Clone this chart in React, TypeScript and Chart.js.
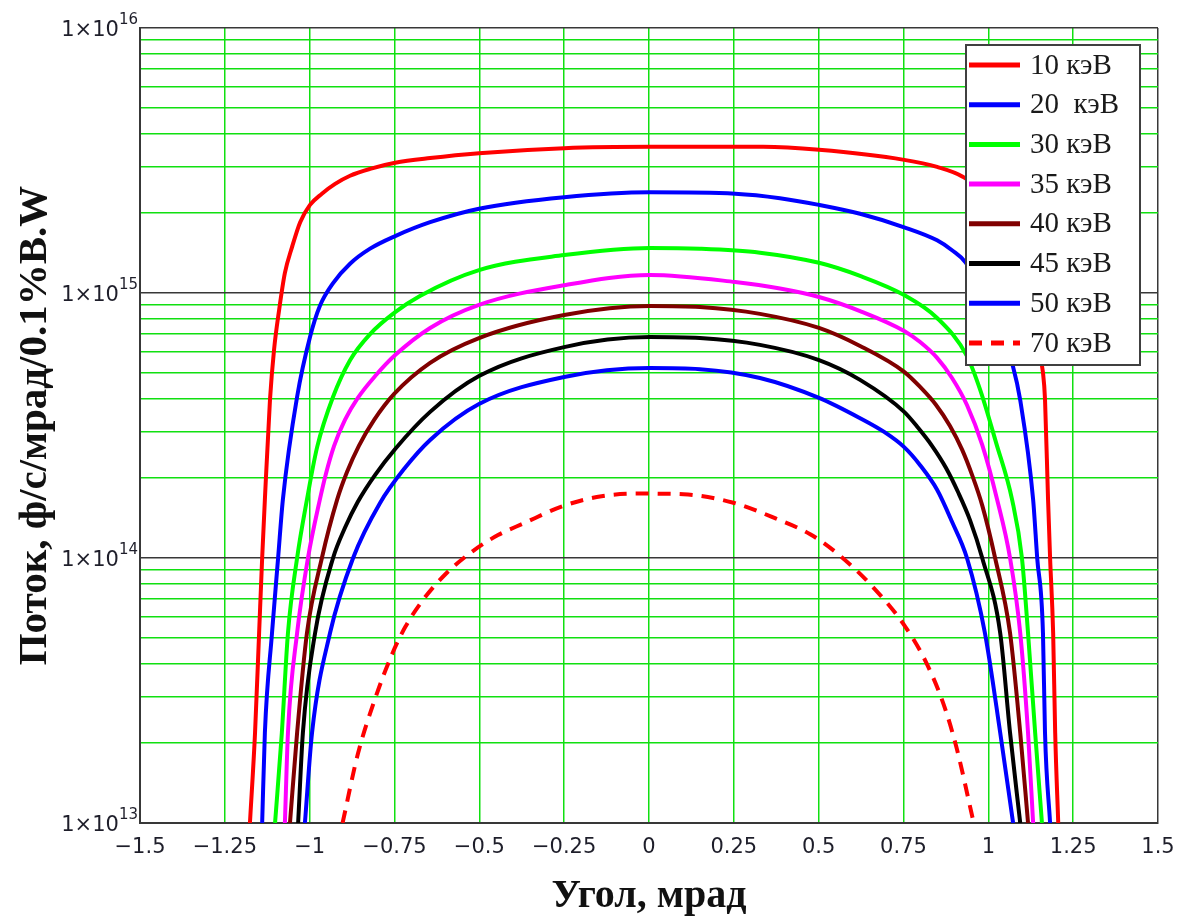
import React, { useEffect, useRef } from 'react';
import { Chart, registerables } from 'chart.js';

Chart.register(...registerables);

// ---- Data (angle in mrad, flux in ph/s/mrad/0.1%BW) ----
const angle10 = [-1.176, -1.161, -1.149, -1.14, -1.132, -1.117, -1.105, -1.09, -1.073, -1.052, -1.028, -0.999, -0.964, -0.925, -0.881, -0.822, -0.748, -0.645, -0.501, -0.25, 0.003, 0.336, 0.501, 0.752, 0.849, 0.926, 1.0, 1.05, 1.09, 1.12, 1.145, 1.161, 1.167, 1.176, 1.182, 1.191, 1.197, 1.206];
const flux10 = [1.0e13, 2.19e13, 5.21e13, 1.0e14, 1.66e14, 3.94e14, 6.1e14, 8.63e14, 1.19e15, 1.49e15, 1.85e15, 2.15e15, 2.37e15, 2.58e15, 2.77e15, 2.94e15, 3.1e15, 3.23e15, 3.37e15, 3.52e15, 3.56e15, 3.56e15, 3.47e15, 3.18e15, 2.99e15, 2.74e15, 2.29e15, 1.78e15, 1.26e15, 8.91e14, 6.31e14, 5.01e14, 3.98e14, 1.66e14, 1.0e14, 5.21e13, 2.19e13, 1.0e13];

const angle20 = [-1.14, -1.132, -1.111, -1.093, -1.079, -1.037, -0.999, -0.97, -0.931, -0.881, -0.822, -0.748, -0.645, -0.501, -0.25, 0.003, 0.254, 0.386, 0.501, 0.622, 0.752, 0.849, 0.893, 0.934, 0.99, 1.035, 1.073, 1.094, 1.132, 1.144, 1.161, 1.167, 1.182];
const flux20 = [1.0e13, 2.19e13, 5.21e13, 1.0e14, 1.66e14, 4.06e14, 6.82e14, 8.93e14, 1.09e15, 1.29e15, 1.47e15, 1.64e15, 1.85e15, 2.08e15, 2.3e15, 2.4e15, 2.37e15, 2.28e15, 2.15e15, 1.99e15, 1.77e15, 1.58e15, 1.45e15, 1.3e15, 9.42e14, 7.24e14, 5.26e14, 3.94e14, 1.66e14, 1.0e14, 5.21e13, 2.19e13, 1.0e13];

const angle30 = [-1.102, -1.082, -1.064, -1.037, -1.008, -0.978, -0.931, -0.881, -0.822, -0.748, -0.675, -0.501, -0.25, 0.003, 0.15, 0.327, 0.501, 0.622, 0.752, 0.849, 0.937, 0.976, 1.023, 1.07, 1.099, 1.117, 1.138, 1.158];
const flux30 = [1.0e13, 2.19e13, 5.21e13, 1.0e14, 1.66e14, 2.62e14, 4.06e14, 5.58e14, 7.0e14, 8.47e14, 9.75e14, 1.22e15, 1.39e15, 1.48e15, 1.47e15, 1.42e15, 1.3e15, 1.16e15, 9.82e14, 8.05e14, 5.78e14, 4.31e14, 2.72e14, 1.66e14, 1.0e14, 5.21e13, 2.19e13, 1.0e13];

const angle35 = [-1.073, -1.064, -1.037, -1.005, -0.97, -0.952, -0.928, -0.896, -0.858, -0.807, -0.748, -0.645, -0.501, -0.25, 0.003, 0.254, 0.386, 0.501, 0.622, 0.752, 0.799, 0.849, 0.893, 0.937, 0.982, 1.026, 1.064, 1.094, 1.117, 1.132];
const flux35 = [1.0e13, 2.19e13, 5.21e13, 1.0e14, 1.66e14, 2.08e14, 2.65e14, 3.32e14, 4.02e14, 4.86e14, 5.83e14, 7.38e14, 9.02e14, 1.07e15, 1.17e15, 1.1e15, 1.04e15, 9.66e14, 8.55e14, 7.19e14, 6.53e14, 5.69e14, 4.78e14, 3.78e14, 2.67e14, 1.66e14, 1.0e14, 5.21e13, 2.19e13, 1.0e13];

const angle40 = [-1.058, -1.037, -1.008, -0.964, -0.919, -0.89, -0.855, -0.81, -0.751, -0.645, -0.501, -0.25, 0.003, 0.15, 0.327, 0.501, 0.622, 0.752, 0.799, 0.846, 0.887, 0.923, 0.952, 0.982, 1.02, 1.064, 1.094, 1.117];
const flux40 = [1.0e13, 2.19e13, 5.21e13, 1.0e14, 1.66e14, 2.11e14, 2.65e14, 3.32e14, 4.16e14, 5.45e14, 6.76e14, 8.26e14, 8.93e14, 8.85e14, 8.34e14, 7.38e14, 6.31e14, 5.04e14, 4.42e14, 3.78e14, 3.15e14, 2.56e14, 2.06e14, 1.58e14, 1.0e14, 5.21e13, 2.19e13, 1.0e13];

const angle45 = [-1.034, -1.02, -0.984, -0.931, -0.896, -0.858, -0.807, -0.748, -0.645, -0.501, -0.25, 0.003, 0.15, 0.327, 0.501, 0.622, 0.752, 0.793, 0.834, 0.875, 0.911, 0.946, 0.982, 1.035, 1.064, 1.094];
const flux45 = [1.0e13, 2.19e13, 5.21e13, 1.0e14, 1.3e14, 1.63e14, 2.06e14, 2.58e14, 3.56e14, 4.86e14, 6.25e14, 6.82e14, 6.76e14, 6.37e14, 5.58e14, 4.7e14, 3.56e14, 3.1e14, 2.65e14, 2.19e14, 1.77e14, 1.39e14, 1.0e14, 5.21e13, 2.19e13, 1.0e13];

const angle50 = [-1.014, -0.993, -0.94, -0.872, -0.793, -0.719, -0.645, -0.501, -0.25, 0.003, 0.15, 0.327, 0.501, 0.622, 0.693, 0.752, 0.799, 0.849, 0.893, 0.937, 0.99, 1.035, 1.073];
const flux50 = [1.0e13, 2.19e13, 5.21e13, 1.0e14, 1.61e14, 2.19e14, 2.79e14, 3.81e14, 4.82e14, 5.21e14, 5.16e14, 4.78e14, 4.02e14, 3.37e14, 2.99e14, 2.62e14, 2.24e14, 1.81e14, 1.37e14, 1.0e14, 5.21e13, 2.19e13, 1.0e13];

const angle70 = [-0.903, -0.858, -0.807, -0.756, -0.718, -0.667, -0.603, -0.52, -0.445, -0.37, -0.254, -0.14, -0.025, 0.102, 0.246, 0.373, 0.475, 0.563, 0.664, 0.753, 0.817, 0.868, 0.906, 0.957];
const flux70 = [1.0e13, 1.82e13, 2.95e13, 4.37e13, 5.5e13, 6.92e13, 8.61e13, 1.06e14, 1.22e14, 1.35e14, 1.57e14, 1.71e14, 1.75e14, 1.74e14, 1.62e14, 1.41e14, 1.23e14, 1.02e14, 7.67e13, 5.56e13, 4.03e13, 2.81e13, 1.93e13, 1.0e13];

const seriesLabels = ['10 кэВ', '20  кэВ', '30 кэВ', '35 кэВ', '40 кэВ', '45 кэВ', '50 кэВ', '70 кэВ'];
const seriesColors = ['#ff0000', '#0000ff', '#00ff00', '#ff00ff', '#800000', '#000000', '#0000ff', '#ff0000'];
const seriesAngles = [angle10, angle20, angle30, angle35, angle40, angle45, angle50, angle70];
const seriesFlux = [flux10, flux20, flux30, flux35, flux40, flux45, flux50, flux70];

const xTickValues = [-1.5, -1.25, -1, -0.75, -0.5, -0.25, 0, 0.25, 0.5, 0.75, 1, 1.25, 1.5];
const xTickLabels = ['\u22121.5', '\u22121.25', '\u22121', '\u22120.75', '\u22120.5', '\u22120.25', '0', '0.25', '0.5', '0.75', '1', '1.25', '1.5'];
const yDecades = [13, 14, 15, 16];

const xTitle = 'Угол, мрад';
const yTitle = 'Поток, ф/с/мрад/0.1%В.W';

const GREEN = '#10e010';
const DARK = '#383838';

function buildYGrid(): number[] {
  const vals: number[] = [];
  for (let k = 0; k < yDecades.length - 1; k++) {
    for (let m = 1; m <= 9; m++) vals.push(m * Math.pow(10, yDecades[k]));
  }
  vals.push(Math.pow(10, yDecades[yDecades.length - 1]));
  return vals;
}

const legendPlugin = {
  id: 'boxLegend',
  afterDatasetsDraw(chart: any) {
    const { ctx, chartArea } = chart;
    const w = 174;
    const h = 320;
    const left = chartArea.right - 192;
    const top = chartArea.top + 17;
    ctx.save();
    ctx.fillStyle = '#ffffff';
    ctx.fillRect(left, top, w, h);
    ctx.strokeStyle = '#404040';
    ctx.lineWidth = 2;
    ctx.strokeRect(left, top, w, h);
    chart.data.datasets.forEach((ds: any, i: number) => {
      const y = top + 20 + i * 39.7;
      ctx.strokeStyle = ds.borderColor;
      ctx.lineWidth = 5;
      ctx.setLineDash(ds.borderDash || []);
      ctx.beginPath();
      ctx.moveTo(left + 3, y);
      ctx.lineTo(left + 54, y);
      ctx.stroke();
      ctx.setLineDash([]);
      ctx.fillStyle = '#1a1a1a';
      ctx.font = '29px "Liberation Serif"';
      ctx.textBaseline = 'middle';
      ctx.textAlign = 'left';
      ctx.fillText(ds.label, left + 64, y + 1);
    });
    ctx.restore();
  },
};

const yLabelPlugin = {
  id: 'yPowLabels',
  afterDraw(chart: any) {
    const { ctx, chartArea } = chart;
    const ys = chart.scales.y;
    ctx.save();
    ctx.fillStyle = '#1e1e2a';
    ctx.textBaseline = 'middle';
    yDecades.forEach((n) => {
      const y = ys.getPixelForValue(Math.pow(10, n));
      const sup = String(n);
      ctx.font = '15px "DejaVu Sans"';
      const supW = ctx.measureText(sup).width;
      const supX = chartArea.left - 2 - supW;
      ctx.textAlign = 'left';
      ctx.fillText(sup, supX, y - 8);
      ctx.font = '21px "DejaVu Sans"';
      ctx.textAlign = 'right';
      ctx.fillText('1\u00d710', supX, y + 3);
    });
    ctx.restore();
  },
};

export default function App() {
  const canvasRef = useRef<HTMLCanvasElement | null>(null);

  useEffect(() => {
    if (!canvasRef.current) return;
    const datasets = seriesLabels.map((label, i) => ({
      label,
      data: seriesAngles[i].map((a, j) => ({ x: a, y: seriesFlux[i][j] })),
      borderColor: seriesColors[i],
      backgroundColor: seriesColors[i],
      borderWidth: 4,
      borderDash: i === 7 ? [13, 9] : [],
      pointRadius: 0,
      cubicInterpolationMode: 'monotone' as const,
      fill: false,
    }));
    const yGrid = buildYGrid();
    const chart = new Chart(canvasRef.current, {
      type: 'line',
      data: { datasets },
      options: {
        responsive: false,
        animation: false,
        devicePixelRatio: 1,
        events: [],
        layout: { padding: { top: 28, right: 44, left: 0, bottom: 0 } },
        plugins: {
          legend: { display: false },
          tooltip: { enabled: false },
        },
        scales: {
          x: {
            type: 'linear',
            min: -1.5,
            max: 1.5,
            afterBuildTicks: (scale: any) => {
              scale.ticks = xTickValues.map((v) => ({ value: v }));
            },
            afterFit: (scale: any) => {
              scale.height = 101;
            },
            ticks: {
              autoSkip: false,
              maxRotation: 0,
              padding: 12,
              color: '#1e1e2a',
              font: { family: '"DejaVu Sans"', size: 21 },
              callback: (_v: any, idx: number) => xTickLabels[idx],
            },
            grid: {
              drawTicks: false,
              lineWidth: 1.5,
              color: (c: any) => (c.tick && Math.abs(c.tick.value) === 1.5 ? DARK : GREEN),
            },
            border: { display: true, color: DARK, width: 2 },
            title: {
              display: true,
              text: xTitle,
              color: '#111111',
              font: { family: '"Liberation Serif"', size: 40, weight: 'bold' },
              padding: { top: 0, bottom: 3 },
            },
          },
          y: {
            type: 'logarithmic',
            min: 1e13,
            max: 1e16,
            afterBuildTicks: (scale: any) => {
              scale.ticks = yGrid.map((v) => ({ value: v }));
            },
            afterFit: (scale: any) => {
              scale.width = 140;
            },
            ticks: { display: false },
            grid: {
              drawTicks: false,
              lineWidth: 1.5,
              color: (c: any) => {
                if (!c.tick) return GREEN;
                const l = Math.log10(c.tick.value);
                return Math.abs(l - Math.round(l)) < 1e-6 ? DARK : GREEN;
              },
            },
            border: { display: true, color: DARK, width: 2 },
            title: {
              display: true,
              text: yTitle,
              color: '#111111',
              font: { family: '"Liberation Serif"', size: 41, weight: 'bold' },
              padding: { top: 11, bottom: 0 },
            },
          },
        },
      },
      plugins: [legendPlugin, yLabelPlugin],
    } as any);
    return () => chart.destroy();
  }, []);

  return (
    <div style={{ position: 'absolute', left: 0, top: 0, width: 1202, height: 924, background: '#ffffff' }}>
      <canvas ref={canvasRef} width={1202} height={924} style={{ display: 'block' }} />
    </div>
  );
}
